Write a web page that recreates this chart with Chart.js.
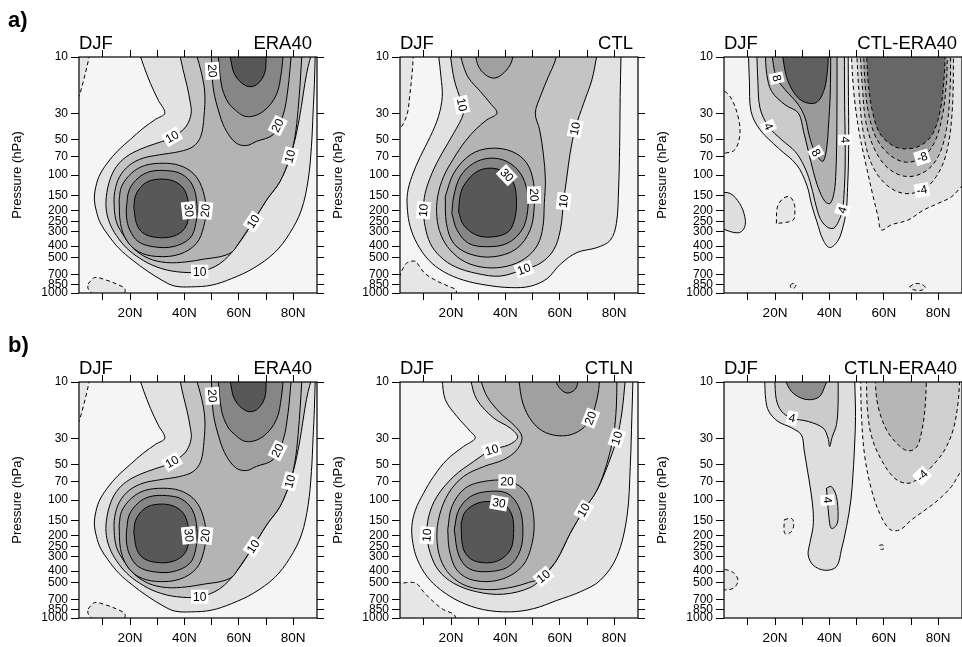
<!DOCTYPE html>
<html lang="en">
<head>
  <meta charset="UTF-8">
  <title>DJF zonal mean zonal wind</title>
  <script src="https://cdn.jsdelivr.net/npm/chart.js"></script>
  <style>
    body { margin: 0; background: #fff; width: 962px; height: 647px; overflow: hidden; position: relative; }
    canvas { position: absolute; }
  </style>
</head>
<body>
<script>
// ---- axes ----
const latTicks = [10, 20, 30, 40, 50, 60, 70, 80];
const pTicks = [10, 30, 50, 70, 100, 150, 200, 250, 300, 400, 500, 700, 850, 1000];
const titleLeft = 'DJF';
const titlesRight = ['ERA40', 'CTL', 'CTL-ERA40', 'ERA40', 'CTLN', 'CTLN-ERA40'];

// ---- ERA40 contours [lat, hPa] ----
const era_n1 = [[5.2,9.5],[4.2,12.0],[3.0,15.6],[2.0,19],[1.2,21.6],[-0.3,23],[-0.3,9.5]];
const era_n2 = [[4.6,838],[7.0,740],[11.3,778],[15.6,850],[18.1,920],[17.7,1010],[6.4,1010],[4.6,920]];
const era_c5 = [[23.6,9.5],[25.1,12.0],[27.5,16.7],[30.3,23.0],[32.8,29.9],[29.5,33.6],[24.8,40.2],[20.2,49.8],[15.6,62.0],[11.6,79.5],[8.6,103],[7.2,134],[6.9,163],[7.7,205],[9.1,255],[11.9,321],[16.0,420],[20.9,526],[26.3,650],[32.2,790],[36.5,874],[42.6,887],[49.9,859],[57.3,756],[65.3,618],[73.2,454],[78.7,312],[83.0,198],[85.5,110],[86.7,57.4],[87.3,29.9],[87.8,16.7],[88.1,9.5]];
const era_c10 = [[38.3,9.5],[39.5,12.8],[41.0,17.7],[42.2,24.6],[42.5,29.9],[41.0,37.6],[38.3,43.6],[34.0,49.8],[29.1,54.5],[23.6,60.7],[18.7,69.9],[15.0,84.9],[12.6,110],[11.3,152],[11.3,199],[12.6,258],[15.0,326],[18.7,415],[23.6,508],[29.7,600],[37.1,660],[45.6,660],[53.0,565],[59.1,405],[65.3,248],[70.2,163],[75.1,114],[78.7,72],[81.2,44.2],[83.0,26.2],[84.3,16.7],[85.5,12.0],[86.7,9.5]];
const era_c15 = [[44.4,9.5],[46.3,13.7],[47.5,20.2],[47.2,31.9],[46.0,47.2],[43.2,57.4],[38.3,63.2],[30.9,67.4],[24.8,72.0],[19.9,82.2],[16.2,103],[14.4,138],[14.2,186],[15.0,249],[17.2,314],[21.1,415],[26.7,508],[33.4,552],[40.7,545],[47.5,515],[53.5,490],[57.5,450],[59.1,405],[65.3,248],[70.2,163],[75.1,114],[78.7,72],[80.6,48],[81.8,28],[82.6,16],[83.2,9.5]];
const era_p20 = [[49.9,9.5],[50.6,18.3],[53.0,31.0],[55.5,42.7],[59.1,53.8],[62.8,56.3],[66.5,51.9],[72.6,45.5],[76.3,31.0],[78.1,18.3],[79.3,9.5]];
const era_p25 = [[52.4,9.5],[53.6,17.2],[55.5,23.0],[57.9,27.1],[62.8,32.0],[68.9,29.0],[73.8,20.9],[75.7,13.2],[76.3,9.5]];
const era_p30 = [[56.7,9.5],[58.5,14.1],[62.8,17.6],[66.5,17.2],[69.5,13.7],[70.1,9.5]];
const era_j20 = [[16.0,163],[16.9,125],[20.5,96.7],[25.4,83.1],[32.2,79.5],[38.3,83.1],[43.2,96.7],[46.3,125],[47.9,186],[47.1,274],[44.4,380],[38.3,469],[29.7,490],[23.0,445],[18.7,356],[16.5,258]];
const era_j25 = [[18.7,186],[19.7,134],[23.0,106],[27.3,93.6],[33.4,91.8],[38.9,98],[42.9,121],[44.6,174],[44.2,258],[42.0,344],[35.8,405],[28.5,405],[23.0,366],[19.9,292],[18.7,227]];
const era_j30 = [[21.4,186],[22.1,148],[24.8,121],[28.5,110],[34.6,110],[38.9,124],[41.0,152],[41.7,211],[40.1,284],[35.8,331],[29.7,338],[24.8,310],[22.4,258]];

// ---- CTL ----
const ctl_n1 = [[6.2,9.5],[5.6,14.6],[4.8,21.6],[4.0,29.9],[2.6,36.3],[1.6,39.3],[0.1,41.5],[0.1,9.5]];
const ctl_n2 = [[0,833],[2.3,621],[4.0,552],[6.9,538],[8.1,582],[10.5,685],[14.8,791],[19.1,877],[21.9,948],[21.2,1070],[0,1070]];
const ctl_c5 = [[15.4,9.5],[16.3,14.6],[16.8,21.6],[15.4,31.9],[12.4,47.2],[8.7,69.9],[5.6,103],[4.0,143],[4.0,199],[5.0,274],[7.5,380],[11.8,526],[17.3,660],[24.6,778],[33.2,859],[41.8,900],[49.1,877],[55.3,756],[60.2,570],[66.3,454],[73.7,412],[78.6,356],[80.8,258],[81.6,134],[82.0,57.4],[82.2,21.6],[82.5,9.5]];
const ctl_c10 = [[19.7,9.5],[21.2,15.6],[23.7,23.8],[24.6,29.9],[21.0,44.2],[16.7,65.4],[13.0,96.7],[10.5,143],[9.9,199],[10.5,274],[12.4,380],[16.1,493],[21.6,600],[29.5,683],[38.1,719],[46.7,631],[52.8,561],[57.7,433],[60.2,292],[61.4,167],[62.6,104],[63.8,65.4],[65.7,40.2],[68.8,24.6],[71.8,15.6],[73.7,9.5]];
const ctl_c15 = [[23.4,9.5],[24.6,12.0],[26.5,15.1],[30.8,19.6],[34.4,24.6],[36.9,29.9],[33.2,34.1],[29.5,40.2],[25.2,51.9],[21.0,72.2],[17.3,103],[15.1,152],[14.8,226],[16.3,322],[19.7,432],[25.2,545],[32.6,609],[40.6,593],[47.3,508],[51.8,392],[53.8,274],[54.3,174],[54.7,110],[54.0,67.8],[52.6,41.5],[51.0,29.9],[53.1,20.9],[55.9,14.5],[58.0,11.3],[58.9,9.5]];
const ctl_u20 = [[28.9,9.5],[30.1,12.0],[32.6,14.1],[35.7,15.1],[38.7,14.1],[41.8,11.6],[43.0,9.5]];
const ctl_j20 = [[17.9,152],[21.0,96.7],[27.1,67.4],[34.4,59.4],[42.4,63.2],[47.9,79.5],[50.4,118],[50.6,186],[49.1,292],[44.2,419],[35.7,493],[27.1,469],[21.0,380],[18.3,256]];
const ctl_j25 = [[20.3,211],[21.0,152],[23.4,103],[28.3,79.5],[34.4,72.0],[40.6,76.9],[45.5,96.7],[47.9,134],[48.2,199],[46.1,292],[40.6,380],[33.2,405],[26.5,380],[22.2,292]];
const ctl_j30 = [[22.8,205],[23.4,148],[25.2,118],[29.5,93.6],[34.4,87.5],[39.3,93.6],[42.8,114],[44.0,152],[43.6,226],[41.2,301],[35.7,334],[29.5,324],[24.6,265]];

// ---- CTL-ERA40 ----
const d1_nl = [[-1,18.9],[1.5,19.5],[4.2,23.0],[6.7,34.1],[7.0,47.2],[5.2,61.2],[1.5,65.4],[-1,65.4]];
const d1_pl = [[-1,141],[3.4,143],[7.0,174],[8.9,226],[8.9,274],[7.0,307],[3.4,301],[-1,274]];
const d1_nb = [[20.5,257],[20.9,186],[23.0,158],[25.4,153],[27.0,174],[27.3,211],[26.7,241],[23.6,253]];
const d1_nc = [[25.6,860],[26.6,830],[27.7,850],[27.1,905],[25.9,905]];
const d1_nd = [[69.5,887],[71.4,833],[73.8,843],[75.3,900],[73.8,948],[70.8,937]];
const d1_p2 = [[10.2,8.9],[10.6,16.1],[11.2,28.9],[14.5,41.4],[21.3,59.4],[28.0,82.2],[31.7,122],[33.5,180],[35.4,249],[37.7,356],[40.1,412],[42.9,367],[44.7,292],[46.2,199],[46.7,125],[47.0,79.5],[47.1,47.2],[47.0,21.6],[46.9,8.9]];
const d1_p4 = [[13.3,8.9],[13.7,16.1],[14.5,27.1],[17.6,38.8],[22.5,50.4],[27.4,63.2],[30.5,82.2],[32.9,114],[34.7,168],[36.6,233],[39.0,274],[41.5,283],[43.3,249],[44.8,198],[45.5,130],[45.8,82.2],[45.8,50.4],[45.6,25.4],[45.5,8.9]];
const d1_p6 = [[16.4,8.9],[17.0,14.1],[18.8,19.6],[23.7,25.4],[28.6,29.9],[30.5,42.8],[32.3,63.2],[34.1,93.7],[36.0,130],[38.4,168],[40.3,174],[41.8,138],[42.4,93.7],[42.7,48.9],[42.8,20.9],[42.8,8.9]];
const d1_p8 = [[18.8,8.9],[19.4,11.6],[20.6,15.1],[23.7,18.9],[28.6,25.4],[31.1,33.0],[32.5,45.6],[34.1,59.4],[36.6,74.5],[37.8,76.1],[39.0,59.4],[39.6,40.1],[40.3,20.9],[40.5,8.9]];
const d1_p10 = [[22.7,9.5],[24.2,14.6],[26.7,19.6],[30.3,23.8],[35.2,24.3],[38.1,18.9],[39.3,12.8],[39.6,9.5]];
const d1_m2 = [[48.0,8.9],[49.0,20.2],[51.0,44.2],[53.6,84.9],[56.1,153],[57.9,226],[59.1,292],[62.8,264],[68.9,241],[74.5,199],[80.0,174],[84.9,153],[88.5,125],[92,100],[92,8.9]];
const d1_m4 = [[50.0,8.9],[51.0,21.6],[52.5,44.2],[55.4,79.5],[60.4,118],[67.1,143],[74.2,134],[79.3,103],[83.0,65.4],[85.1,29.9],[85.7,8.9]];
const d1_m6 = [[51.3,8.9],[52.2,18.9],[53.5,36.4],[56.7,61.2],[61.6,87.7],[68.3,103],[75.1,93.7],[80.0,69.8],[83.0,41.4],[84.3,20.2],[84.6,8.9]];
const d1_m8 = [[52.5,8.9],[53.2,17.7],[54.5,30.9],[57.3,48.9],[62.2,67.7],[68.3,78.0],[74.2,70.7],[78.5,53.8],[81.5,31.9],[83.0,16.7],[83.4,8.9]];
const d1_m10 = [[53.6,8.9],[54.3,16.7],[55.7,28.1],[58.5,44.2],[63.4,56.6],[68.3,60.1],[73.8,55.8],[78.1,44.2],[80.9,27.1],[82.2,14.6],[82.6,8.9]];

// ---- CTLN ----
const ctn_n2 = [[0,520],[3.6,501],[7.2,508],[9.9,600],[13.6,730],[17.3,850],[21.0,930],[21.5,1010],[0,1010]];
const ctn_c5 = [[16.7,9.5],[17.9,14.1],[22.2,19.6],[27.1,26.2],[28.9,29.9],[24.6,35.2],[18.5,45.6],[13.6,63.2],[9.9,87.7],[6.9,122],[5.6,168],[6.0,233],[7.7,322],[11.2,445],[16.1,575],[23.4,730],[32.0,850],[41.8,887],[50.4,833],[58.9,710],[67.5,600],[74.9,479],[81.0,301],[84.7,138],[85.9,52.1],[86.5,19.6],[86.9,9.5]];
const ctn_c10 = [[27.1,9.5],[29.5,14.1],[35.7,20.2],[41.8,24.6],[44.5,29.4],[41.2,34.1],[35.0,37.6],[28.3,47.2],[21.0,63.2],[14.8,93.7],[11.8,138],[11.2,199],[12.4,283],[15.4,394],[21.0,508],[29.5,600],[39.3,628],[49.1,552],[54.0,445],[58.9,322],[63.8,192],[68.8,122],[73.7,82.2],[77.9,48.9],[81.0,29.9],[82.8,18.3],[84.1,9.5]];
const ctn_c15 = [[30.8,9.5],[33.2,13.2],[38.1,18.3],[43.6,23.8],[46.1,29.4],[44.2,37.6],[39.3,45.6],[32.0,52.1],[24.6,63.2],[19.1,87.7],[15.8,134],[14.8,205],[16.1,314],[19.7,432],[25.9,538],[34.4,575],[43.0,545],[48.5,500],[53.0,465],[54.8,420],[58.9,322],[63.8,192],[68.8,122],[73.7,82.2],[77.2,50],[79.8,28],[80.8,16],[81.0,9.5]];
const ctn_p20 = [[44.9,9.5],[46.4,15.1],[49.8,21.6],[54.7,26.8],[61.4,28.6],[66.9,26.2],[71.0,21.2],[73.0,16.1],[74.3,11.6],[74.6,9.5]];
const ctn_p25 = [[58.3,9.5],[59.6,11.0],[62.6,12.4],[65.7,11.5],[66.9,9.5]];
const ctn_j20 = [[18.8,179],[20.3,114],[25.2,79.5],[33.2,69.0],[41.8,69.8],[47.9,87.7],[50.4,138],[49.8,233],[46.1,366],[38.1,473],[28.3,479],[22.2,394],[19.4,265]];
const ctn_j25 = [[21.2,179],[22.8,122],[27.1,93.7],[33.2,84.9],[40.6,87.7],[44.9,114],[46.4,168],[45.5,265],[41.2,366],[33.2,405],[26.5,380],[22.8,292]];
const ctn_j30 = [[23.7,158],[25.2,126],[29.5,107],[34.4,103],[39.3,108],[42.4,134],[43.0,192],[41.8,265],[37.5,326],[32.0,340],[27.1,314],[24.4,253]];

// ---- CTLN-ERA40 ----
const d2_na = [[23.4,147],[26.0,143],[26.9,158],[26.0,186],[23.6,192]];
const d2_nb = [[-1,380],[4.2,405],[6.4,479],[4.6,561],[-1,582]];
const d2_nc = [[58.5,241],[59.7,241],[60.1,257],[58.9,262]];
const d2_p2 = [[16.2,9.5],[16.6,14.1],[17.7,17.7],[21.1,21.6],[26.0,24.4],[29.7,28.1],[30.7,37.6],[31.9,55.5],[33.1,82.2],[34.0,122],[34.0,168],[32.8,233],[32.2,292],[34.0,356],[38.3,394],[42.6,367],[44.4,265],[46.3,168],[47.9,100],[48.7,59.4],[49.3,33.0],[49.6,19.6],[49.3,9.5]];
const d2_p4 = [[19.9,9.5],[20.5,14.1],[22.4,17.7],[26.0,20.2],[32.2,21.6],[37.7,24.6],[39.5,29.9],[40.1,35.2],[41.0,29.4],[42.6,23.0],[43.2,15.1],[43.2,9.5]];
const d2_p6 = [[23.6,9.5],[26.0,12.0],[29.7,13.7],[33.4,14.1],[36.5,13.2],[38.3,10.9],[39.3,9.5]];
const d2_p4b = [[38.9,79.5],[40.7,76.9],[42.6,93.7],[43.2,138],[42.6,163],[40.7,174],[39.8,138],[39.3,100]];
const d2_m2 = [[51.5,9.5],[51.8,19.6],[53.0,42.8],[55.5,82.2],[58.5,130],[62.2,177],[65.9,179],[70.1,148],[75.1,122],[80.0,100],[84.9,76.9],[87.9,59.4],[92,45],[92,9.5]];
const d2_m4 = [[53.6,9.5],[54.0,17.2],[55.5,28.9],[59.1,45.6],[64.0,65.4],[68.9,72.2],[73.8,63.2],[78.7,48.9],[82.4,37.6],[85.5,25.4],[87.3,15.1],[87.9,9.5]];
const d2_m6 = [[56.7,9.5],[57.9,16.1],[61.0,25.4],[65.3,34.1],[68.9,38.3],[72.0,35.8],[73.8,27.1],[75.1,17.2],[75.7,9.5]];

// ---- contour labels ----
const eraLabels = [
  {c: era_p20, lat: 48.1, p: 13.2, t: '20'}, {c: era_p20, lat: 73.8, p: 37.6, t: '20'},
  {c: era_c10, lat: 35.8, p: 48.8, t: '10'}, {c: era_c10, lat: 79.3, p: 70, t: '10'},
  {c: era_j30, lat: 40.1, p: 201, t: '30'}, {c: era_j20, lat: 48.1, p: 201, t: '20'},
  {c: era_c10, lat: 65.3, p: 248, t: '10'}, {c: era_c10, lat: 45.6, p: 672, t: '10'}
];
const ctlLabels = [
  {c: ctl_c10, lat: 24.0, p: 25.4, t: '10'}, {c: ctl_c10, lat: 65.1, p: 40.2, t: '10'},
  {c: ctl_c10, lat: 9.9, p: 199, t: '10'}, {c: ctl_j30, lat: 40.0, p: 103, t: '30'},
  {c: ctl_j20, lat: 49.6, p: 148, t: '20'}, {c: ctl_c10, lat: 61.4, p: 167, t: '10'},
  {c: ctl_c10, lat: 46.7, p: 618, t: '10'}
];
const d1Labels = [
  {c: d1_p8, lat: 20.6, p: 15.1, t: '8'}, {c: d1_p4, lat: 17.6, p: 38.8, t: '4'},
  {c: d1_p8, lat: 34.7, p: 65.4, t: '8'}, {c: d1_p4, lat: 45.2, p: 50.4, t: '4'},
  {c: d1_p4, lat: 45.2, p: 199, t: '4'}, {c: d1_m8, lat: 74.0, p: 69.8, t: '-8'},
  {c: d1_m4, lat: 74.0, p: 134, t: '-4'}
];
const ctnLabels = [
  {c: ctn_c10, lat: 35.0, p: 37.6, t: '10'}, {c: ctn_p20, lat: 71.2, p: 20.2, t: '20'},
  {c: ctn_c10, lat: 81.0, p: 29.9, t: '10'}, {c: ctn_j20, lat: 40.6, p: 69.8, t: '20'},
  {c: ctn_j30, lat: 37.5, p: 110, t: '30'}, {c: ctn_c10, lat: 68.8, p: 122, t: '10'},
  {c: ctn_c10, lat: 11.2, p: 199, t: '10'}, {c: ctn_c10, lat: 54.0, p: 445, t: '10'}
];
const d2Labels = [
  {c: d2_p4, lat: 26.0, p: 21.6, t: '4'}, {c: d2_p4b, lat: 39.9, p: 100, t: '4'},
  {c: d2_m4, lat: 73.8, p: 61.2, t: '-4'}
];

// ---- styles ----
const shade = {
  n: '#e6e6e6', c5: '#e2e2e2', c10: '#c4c4c4', c15: '#b4b4b4', c20: '#a0a0a0', c25: '#868686', c30: '#585858',
  p2: '#dedede', p4: '#cbcbcb', p6: '#b3b3b3', p6d: '#8e8e8e', p8: '#9a9a9a', p10: '#606060',
  m2: '#e3e3e3', m4: '#cfcfcf', m6: '#b6b6b6', m8: '#9c9c9c', m10: '#676767'
};
const D = true;
const eraLayers = [[era_n1,'n',D],[era_n2,'n',D],[era_c5,'c5'],[era_c10,'c10'],[era_c15,'c15'],
  [era_p20,'c20'],[era_p25,'c25'],[era_p30,'c30'],[era_j20,'c20'],[era_j25,'c25'],[era_j30,'c30']];
const ctlLayers = [[ctl_n1,'n',D],[ctl_n2,'n',D],[ctl_c5,'c5'],[ctl_c10,'c10'],[ctl_c15,'c15'],
  [ctl_u20,'c20'],[ctl_j20,'c20'],[ctl_j25,'c25'],[ctl_j30,'c30']];
const d1Layers = [[d1_nl,'n',D],[d1_pl,'p2'],[d1_nb,'n',D],[d1_nc,'n',D],[d1_nd,'n',D],
  [d1_p2,'p2'],[d1_p4,'p4'],[d1_p6,'p6'],[d1_p8,'p8'],[d1_p10,'p10'],
  [d1_m2,'m2',D],[d1_m4,'m4',D],[d1_m6,'m6',D],[d1_m8,'m8',D],[d1_m10,'m10',D]];
const ctnLayers = [[ctn_n2,'n',D],[ctn_c5,'c5'],[ctn_c10,'c10'],[ctn_c15,'c15'],
  [ctn_p20,'c20'],[ctn_p25,'c25'],[ctn_j20,'c20'],[ctn_j25,'c25'],[ctn_j30,'c30']];
const d2Layers = [[d2_nb,'n',D],[d2_na,'n',D],[d2_nc,'n',D],[d2_p2,'p2'],[d2_p4,'p4'],[d2_p6,'p6d'],[d2_p4b,'p4'],
  [d2_m2,'m2',D],[d2_m4,'m4',D],[d2_m6,'m6',D]];

const panels = [
  {col: 0, row: 0, tag: 'a)', layers: eraLayers, labels: eraLabels, bg: '#f5f5f5'},
  {col: 1, row: 0, layers: ctlLayers, labels: ctlLabels, bg: '#f5f5f5'},
  {col: 2, row: 0, layers: d1Layers, labels: d1Labels, bg: '#f3f3f3'},
  {col: 0, row: 1, tag: 'b)', layers: eraLayers, labels: eraLabels, bg: '#f5f5f5'},
  {col: 1, row: 1, layers: ctnLayers, labels: ctnLabels, bg: '#f5f5f5'},
  {col: 2, row: 1, layers: d2Layers, labels: d2Labels, bg: '#f3f3f3'}
];
const colLeft = [0, 321, 645];
const rowTop = [0, 325];
const LAT0 = 1.25, LAT1 = 88.75;

Chart.defaults.font.family = '"Liberation Sans", Arial, Helvetica, sans-serif';
Chart.defaults.color = '#000';

function isInside(pt) {
  return pt[0] > LAT0 && pt[0] < LAT1 && pt[1] > 10 && pt[1] < 1000;
}

function nearestOnLine(points, px, py) {
  let best = null;
  for (let i = 0; i < points.length - 1; i++) {
    const a = points[i], b = points[i + 1];
    const dx = b.x - a.x, dy = b.y - a.y;
    const len = dx * dx + dy * dy || 1;
    let t = ((px - a.x) * dx + (py - a.y) * dy) / len;
    t = Math.max(0, Math.min(1, t));
    const x = a.x + t * dx, y = a.y + t * dy;
    const d = (x - px) ** 2 + (y - py) ** 2;
    if (!best || d < best.d) best = {x, y, d, ang: Math.atan2(dy, dx)};
  }
  return best;
}

const panelDecor = {
  id: 'panelDecor',
  beforeDraw(chart, args, opts) {
    const {ctx, chartArea: a} = chart;
    ctx.save();
    ctx.fillStyle = opts.bg;
    ctx.fillRect(a.left, a.top, a.right - a.left, a.bottom - a.top);
    ctx.restore();
  },
  afterDatasetsDraw(chart, args, opts) {
    const {ctx, chartArea: a, scales} = chart;
    ctx.save();
    ctx.font = '12px "Liberation Sans", Arial, sans-serif';
    ctx.textAlign = 'center';
    ctx.textBaseline = 'middle';
    opts.labels.forEach(lab => {
      const idx = chart.data.datasets.findIndex(ds => ds.src === lab.c);
      if (idx < 0) return;
      const pts = chart.getDatasetMeta(idx).data;
      const px = scales.x.getPixelForValue(lab.lat);
      const py = scales.y.getPixelForValue(lab.p);
      const hit = nearestOnLine(pts, px, py);
      let ang = hit.ang;
      if (ang > Math.PI / 2) ang -= Math.PI;
      if (ang <= -Math.PI / 2) ang += Math.PI;
      const w = ctx.measureText(lab.t).width + 4;
      ctx.save();
      ctx.translate(hit.x, hit.y);
      ctx.rotate(ang);
      ctx.fillStyle = '#fff';
      ctx.fillRect(-w / 2, -7, w, 14);
      ctx.fillStyle = '#000';
      ctx.fillText(lab.t, 0, 0.5);
      ctx.restore();
    });
    // frame
    ctx.strokeStyle = '#000';
    ctx.lineWidth = 1.2;
    ctx.strokeRect(a.left, a.top, a.right - a.left, a.bottom - a.top);
    ctx.restore();
  },
  afterDraw(chart, args, opts) {
    const {ctx, chartArea: a} = chart;
    ctx.save();
    ctx.fillStyle = '#000';
    ctx.textBaseline = 'alphabetic';
    ctx.font = '18.5px "Liberation Sans", Arial, sans-serif';
    ctx.textAlign = 'left';
    ctx.fillText(titleLeft, a.left, 49);
    ctx.textAlign = 'right';
    ctx.fillText(opts.title, a.right - 5, 49);
    if (opts.tag) {
      ctx.font = 'bold 22px "Liberation Sans", Arial, sans-serif';
      ctx.textAlign = 'left';
      ctx.fillText(opts.tag, 8, 27);
    }
    ctx.restore();
  }
};

function latAxis(position, withLabels) {
  return {
    type: 'linear', position, min: LAT0, max: LAT1,
    afterBuildTicks: s => { s.ticks = latTicks.map(v => ({value: v})); },
    afterFit: s => { s.height = withLabels ? 32 : 8; },
    grid: {drawOnChartArea: false, tickLength: 7, color: '#000', lineWidth: 1},
    border: {display: false},
    ticks: {
      display: withLabels, autoSkip: false, maxRotation: 0, padding: 5,
      font: {size: 13.5}, callback: v => (v % 20 === 0 ? v + 'N' : '')
    }
  };
}

function presAxis(position, withLabels) {
  const ax = {
    type: 'logarithmic', position, reverse: true, min: 10, max: 1000,
    afterBuildTicks: s => { s.ticks = pTicks.map(v => ({value: v})); },
    afterFit: s => { s.width = withLabels ? 79 : 8; },
    grid: {drawOnChartArea: false, tickLength: withLabels ? 8 : 7, color: '#000', lineWidth: 1},
    border: {display: false},
    ticks: {display: withLabels, autoSkip: false, padding: 3, font: {size: 12}, callback: v => String(v)}
  };
  if (withLabels) {
    ax.title = {display: true, text: 'Pressure (hPa)', font: {size: 13}, padding: {top: 10, bottom: 0}};
  }
  return ax;
}

panels.forEach((pn, k) => {
  const cv = document.createElement('canvas');
  cv.width = 330;
  cv.height = 325;
  cv.style.left = colLeft[pn.col] + 'px';
  cv.style.top = rowTop[pn.row] + 'px';
  document.body.appendChild(cv);

  const n = pn.layers.length;
  const datasets = pn.layers.map(([arr, lv, dashed], i) => {
    const pts = arr.map(([x, y]) => ({x, y}));
    if (isInside(arr[0])) pts.push({x: arr[0][0], y: arr[0][1]});
    return {
      data: pts, src: arr, showLine: true, fill: 'shape',
      backgroundColor: shade[lv], borderColor: '#000', borderWidth: 1,
      borderDash: dashed ? [4, 3] : [], pointRadius: 0, tension: 0.35,
      order: n - i
    };
  });

  new Chart(cv, {
    type: 'scatter',
    data: {datasets},
    options: {
      responsive: false, animation: false, events: [],
      layout: {padding: {left: 0, top: 49, right: 5, bottom: 0}},
      elements: {line: {capBezierPoints: false}},
      plugins: {
        legend: {display: false}, tooltip: {enabled: false},
        panelDecor: {bg: pn.bg, labels: pn.labels, title: titlesRight[k], tag: pn.tag}
      },
      scales: {
        x: latAxis('bottom', true),
        x2: latAxis('top', false),
        y: presAxis('left', true),
        y2: presAxis('right', false)
      }
    },
    plugins: [panelDecor]
  });
});
</script>
</body>
</html>
